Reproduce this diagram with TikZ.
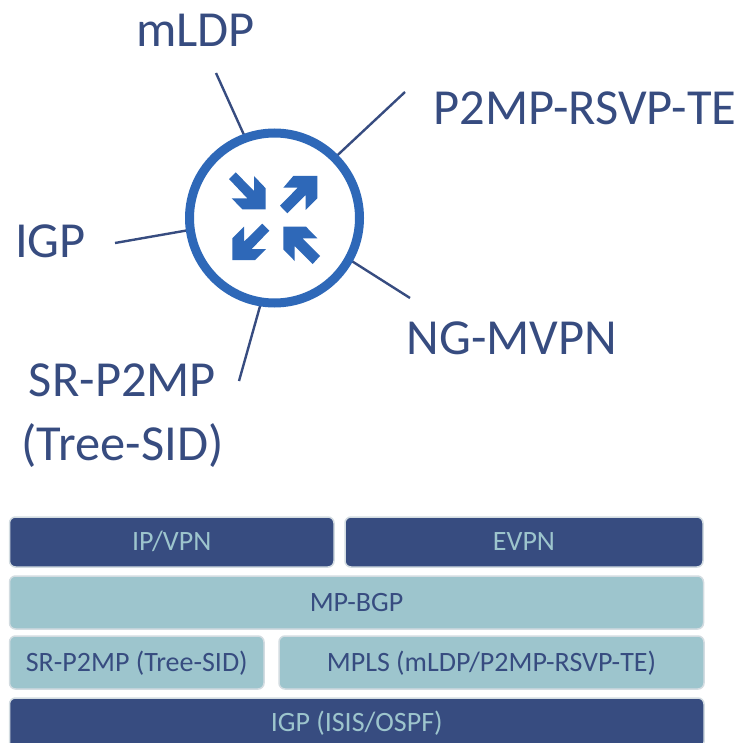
\documentclass[tikz,border=0pt]{standalone}
\usepackage{fontspec}
\setmainfont{Carlito}
\usepackage{xcolor}
\usetikzlibrary{positioning, backgrounds}
\definecolor{navy}{HTML}{374C80}
\definecolor{paleteal}{HTML}{9DC5CD}
\definecolor{routerblue}{HTML}{2E68B8}
\definecolor{boxedge}{HTML}{D3DCE1}
\tikzstyle{biglabel} = [text=navy, font=\fontsize{50.5}{64}\selectfont, align=center]
\tikzstyle{box} = [rounded corners=6pt, draw=boxedge, line width=1.5pt, outer sep=0pt, minimum height=50pt, inner sep=0pt, font=\fontsize{28}{32}\selectfont, text height=21pt, text depth=4pt]
\tikzstyle{darkbox} = [box, fill=navy, text=paleteal]
\tikzstyle{lightbox} = [box, fill=paleteal, text=navy, minimum height=53pt]
\tikzstyle{line} = [navy, line width=2.4pt]
\tikzstyle{arrowmark} = [fill=routerblue]

\begin{document}
\begin{tikzpicture}[x=1pt,y=-1pt]
    \path[clip] (0,0) rectangle (742,743);

    \node[circle, draw=routerblue, fill=white, line width=9pt, minimum size=170pt, outer sep=0pt, inner sep=0pt] (router) at (274.5,218) {};

    \fill[arrowmark] (229,179) -- (235.7,172.3) -- (254,191) -- (254,176) -- (265.7,188.3) -- (265.7,209.3) -- (242.3,209.3) -- (231.7,198.3) -- (247.3,198.3) -- cycle;
    \fill[arrowmark] (317.3,176) -- (293.3,176) -- (283.3,187.7) -- (297.7,187.7) -- (280,205.7) -- (287.3,213.3) -- (305.7,195) -- (305.7,210) -- (317.3,198.3) -- cycle;
    \fill[arrowmark] (232.3,260) -- (232.3,238.3) -- (244,226.7) -- (244,241.7) -- (262.3,223.7) -- (269.3,230.7) -- (251.7,249) -- (266,249) -- (255,260) -- cycle;
    \fill[arrowmark] (283.3,226.7) -- (306,226.7) -- (317.3,238.3) -- (302.3,238.3) -- (320,256) -- (312.7,264) -- (294.7,246) -- (294.7,261) -- (283.3,249.3) -- cycle;

    \node[biglabel] (mldp) at (195.5,30) {mLDP};
    \node[biglabel] (p2mp) at (585,108) {P2MP-RSVP-TE};
    \node[biglabel] (igp) at (50.5,241) {IGP};
    \node[biglabel] (ngmvpn) at (512,338) {NG-MVPN};
    \node[biglabel] (srp2mp) at (122.5,416) {SR-P2MP\\(Tree-SID)};

    \coordinate (end-mldp) at (216,73);
    \coordinate (end-p2mp) at (405,92);
    \coordinate (end-igp) at (115,243);
    \coordinate (end-ngmvpn) at (410,298);
    \coordinate (end-srp2mp) at (239,381);

    \begin{scope}[on background layer]
        \draw[line] (end-mldp) -- (router.110.8);
        \draw[line] (end-p2mp) -- (router.45.2);
        \draw[line] (end-igp) -- (router.188.5);
        \draw[line] (end-ngmvpn) -- (router.-29.6);
        \draw[line] (end-srp2mp) -- (router.-99.4);
    \end{scope}

    \node[darkbox, minimum width=324.5pt, anchor=north west] (ipvpn) at (9.5,517) {IP/VPN};
    \node[darkbox, minimum width=358pt, right=11pt of ipvpn] (evpn) {EVPN};
    \node[lightbox, minimum width=694pt, anchor=north west] (mpbgp) at (9.5,576) {MP-BGP};
    \node[lightbox, minimum width=254.5pt, anchor=north west] (treesid) at (9.5,636) {SR-P2MP (Tree-SID)};
    \node[lightbox, minimum width=425pt, right=15pt of treesid] (mpls) {MPLS (mLDP/P2MP-RSVP-TE)};
    \node[darkbox, minimum width=694.5pt, anchor=north west] (igpbox) at (9.5,698) {IGP (ISIS/OSPF)};
\end{tikzpicture}
\end{document}
